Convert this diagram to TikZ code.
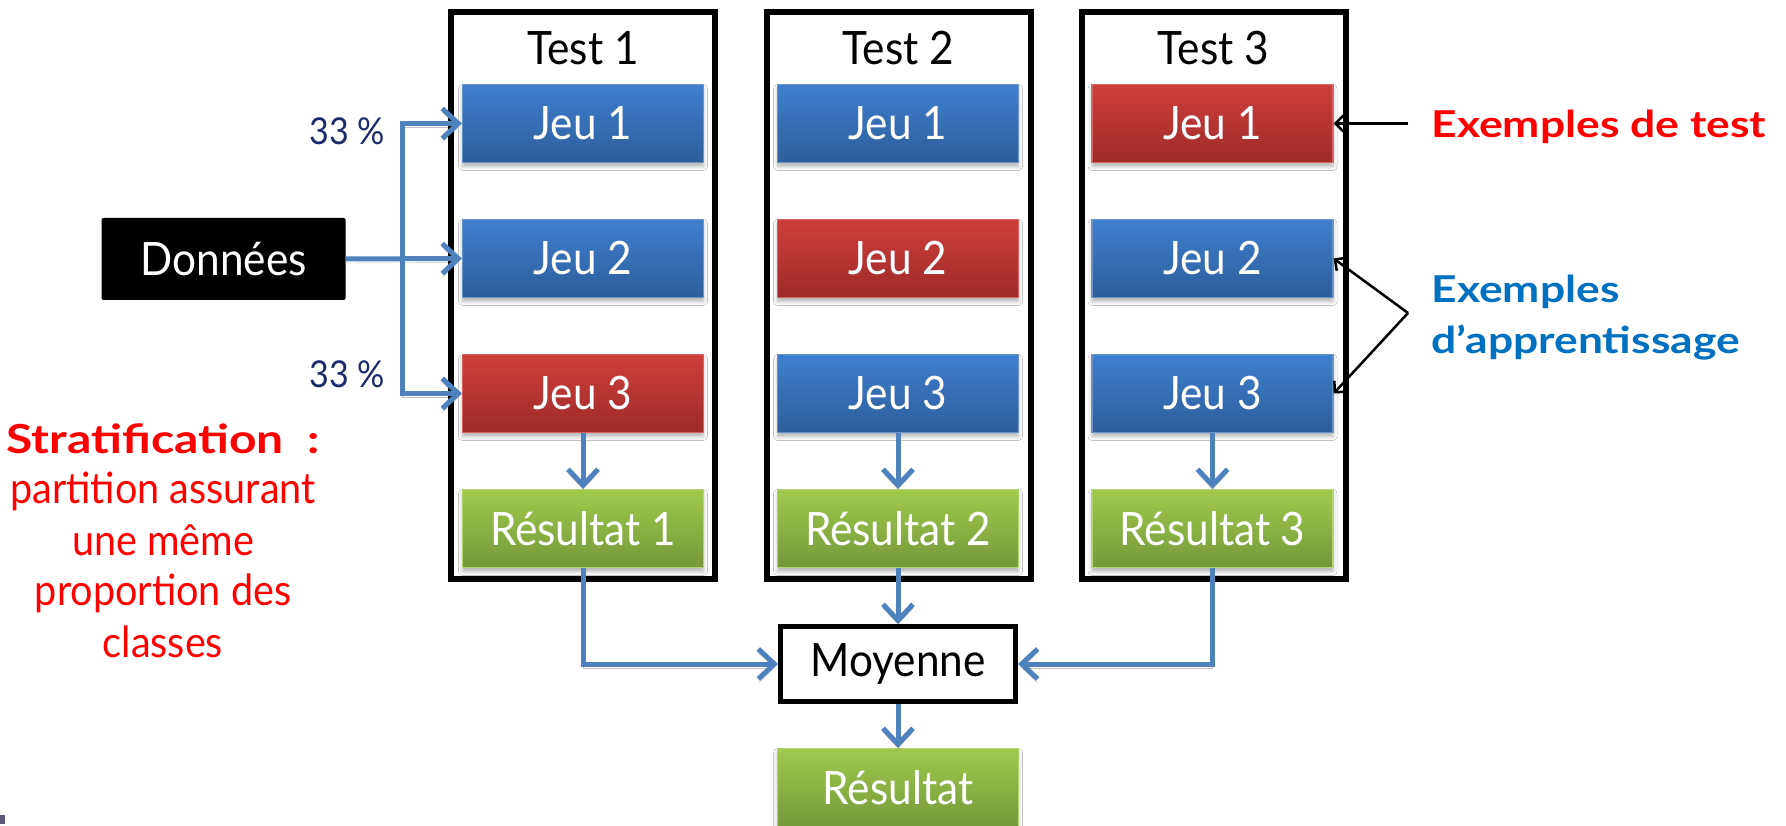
\documentclass[tikz,border=0pt]{standalone}
\usepackage{fontspec}
\setmainfont{Lato}[FakeStretch=0.92]
\newfontfamily\widebold{Lato}[FakeStretch=1.2]
\usetikzlibrary{arrows.meta, shadows.blur}

\definecolor{arrblue}{HTML}{4F81BD}
\definecolor{bluetop}{HTML}{3F7FCE}
\definecolor{bluebot}{HTML}{2E5D9B}
\definecolor{redtop}{HTML}{CE3F3C}
\definecolor{redbot}{HTML}{9E2A28}
\definecolor{greentop}{HTML}{A1C94D}
\definecolor{greenbot}{HTML}{75983A}
\definecolor{pctblue}{HTML}{1B2A6B}
\definecolor{learnblue}{HTML}{0070C0}
\definecolor{markgray}{HTML}{5E5A7E}

\tikzset{
  card/.style={minimum width=241pt, minimum height=78pt, inner sep=0pt,
    text=white, font=\fontsize{46}{52}\selectfont, line width=1.2pt,
    blur shadow={shadow xshift=0pt, shadow yshift=-4pt,
      shadow blur radius=4pt, shadow opacity=30}},
  bluecard/.style={card, draw=arrblue!85!white, top color=bluetop, bottom color=bluebot},
  redcard/.style={card, draw=redtop!80!white, top color=redtop, bottom color=redbot},
  greencard/.style={card, draw=greentop!80!white, top color=greentop, bottom color=greenbot},
  testframe/.style={draw=black, line width=6pt, inner sep=0pt,
    minimum width=264pt, minimum height=567pt},
  title/.style={anchor=base, font=\fontsize{46}{52}\selectfont},
  datacard/.style={fill=black, text=white, rounded corners=2pt, inner sep=0pt,
    minimum width=244pt, minimum height=82pt, font=\fontsize{46}{52}\selectfont},
  avgbox/.style={draw=black, fill=white, line width=5pt, inner sep=0pt,
    minimum width=235pt, minimum height=75pt, font=\fontsize{46}{52}\selectfont},
  flow/.style={draw=arrblue, line width=5pt, line join=miter,
    -{Straight Barb[length=16pt, width=30pt]},
    preaction={draw=black, opacity=0.25, transform canvas={yshift=-4pt}}},
  note/.style={draw=black, line width=2.5pt,
    -{Straight Barb[length=8pt, width=16pt]}},
  pct/.style={anchor=base, text=pctblue, font=\fontsize{37}{42}\selectfont},
  boldnote/.style={anchor=base west, font=\widebold\bfseries\fontsize{37}{44}\selectfont},
  stratline/.style={anchor=base, text=red, font=\fontsize{43}{50}\selectfont}
}

\begin{document}
\begin{tikzpicture}[x=1pt, y=-1pt]
\useasboundingbox (0,0) rectangle (1786,826);
\fill[white] (0,0) rectangle (1786,826);

% three test frames with their titles
\node[testframe] (t1) at (583,295.5) {};
\node[testframe] (t2) at (898.5,295.5) {};
\node[testframe] (t3) at (1213.5,295.5) {};
\node[title] (h1) at (583,65) {Test 1};
\node[title] (h2) at (898.5,65) {Test 2};
\node[title] (h3) at (1213.5,65) {Test 3};

% folds of each test
\node[bluecard]  (a1) at (583,123.5) {Jeu 1};
\node[bluecard]  (a2) at (583,258.5) {Jeu 2};
\node[redcard]   (a3) at (583,393.5) {Jeu 3};
\node[greencard] (r1) at (583,528.5) {Résultat 1};

\node[bluecard]  (b1) at (898,123.5) {Jeu 1};
\node[redcard]   (b2) at (898,258.5) {Jeu 2};
\node[bluecard]  (b3) at (898,393.5) {Jeu 3};
\node[greencard] (r2) at (898,528.5) {Résultat 2};

\node[redcard]   (c1) at (1212.5,123.5) {Jeu 1};
\node[bluecard]  (c2) at (1212.5,258.5) {Jeu 2};
\node[bluecard]  (c3) at (1212.5,393.5) {Jeu 3};
\node[greencard] (r3) at (1212.5,528.5) {Résultat 3};

% data source, average and final result
\node[datacard] (src) at (223.6,259) {Données};
\node[avgbox] (avg) at (898,664) {Moyenne};
\node[greencard] (fin) at (898,787.5) {Résultat};

% splitting the data into three folds
\coordinate (split) at (402,259);
\draw[flow] (src.east) -- (a2.west);
\draw[flow] (split) |- (a1.west);
\draw[flow] (split) |- (a3.west);
\node[pct] (p1) at (347,145) {33 \%};
\node[pct] (p2) at (347,387) {33 \%};

% evaluation and averaging
\draw[flow] (a3.south) -- (r1.north);
\draw[flow] (b3.south) -- (r2.north);
\draw[flow] (c3.south) -- (r3.north);
\draw[flow] (r1.south) |- (avg.west);
\draw[flow] (r2.south) -- (avg.north);
\draw[flow] (r3.south) |- (avg.east);
\draw[flow] (avg.south) -- (fin.north);

% legend on the right
\coordinate (n1) at (1408,123.5);
\coordinate (n2) at (1408,313);
\draw[note] (n1) -- (c1.east);
\draw[note] (n2) -- (c2.east);
\draw[note] (n2) -- (c3.east);
\node[boldnote, text=red] (lt) at (1428,138) {Exemples de test};
\node[boldnote, text=learnblue] (la) at (1428,303) {Exemples};
\node[boldnote, text=learnblue] (lb) at (1428,353) {d’apprentissage};

% stratification remark
\node[stratline, font=\widebold\bfseries\fontsize{40}{48}\selectfont] (s1) at (163,453) {Stratification~~:};
\node[stratline] (s2) at (163,503) {partition assurant};
\node[stratline] (s3) at (163,555) {une même};
\node[stratline] (s4) at (163,605) {proportion des};
\node[stratline] (s5) at (163,657) {classes};

% small mark in the lower left corner
\fill[markgray] (0,815) rectangle (5,824);
\end{tikzpicture}
\end{document}
